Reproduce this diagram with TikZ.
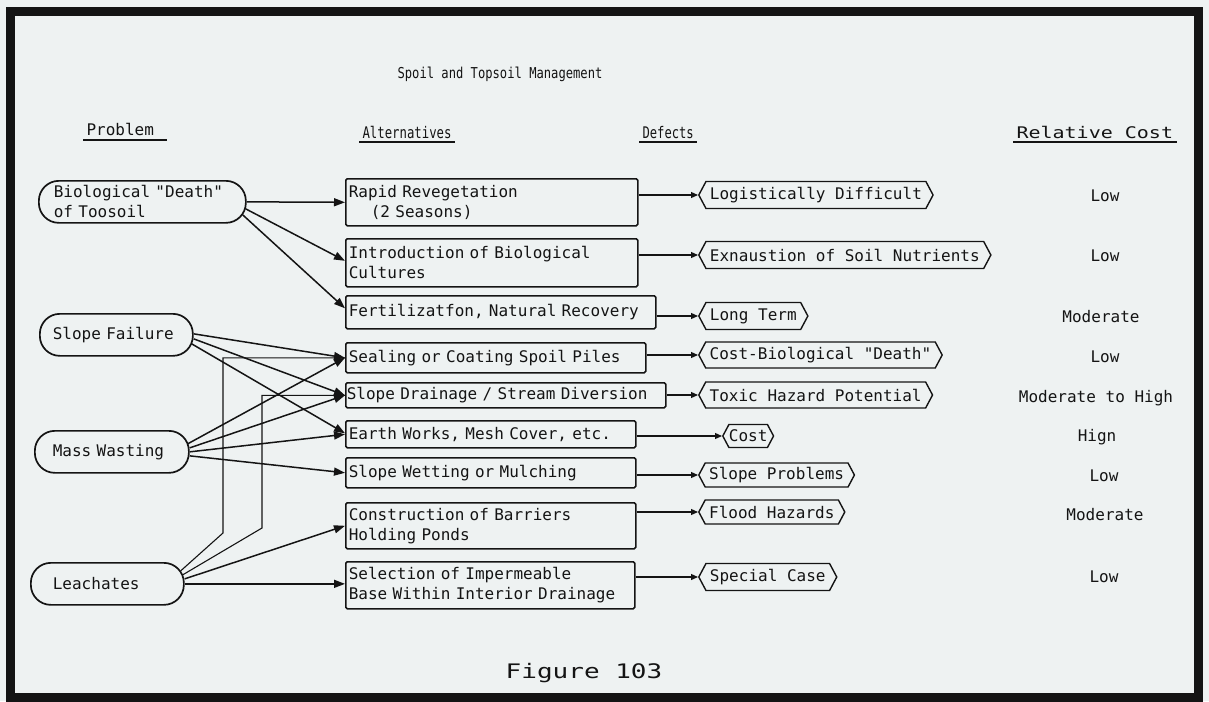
\documentclass[tikz,border=0pt]{standalone}
\usepackage{fontspec}
\usepackage{graphicx}
\usetikzlibrary{arrows.meta,shapes.symbols,calc}
\newfontfamily\tty{DejaVu Sans Mono}
\newcommand\condensed[2][0.77]{\scalebox{#1}[1]{#2}}
\newcommand\widened[2][1.27]{\scalebox{#1}[1]{#2}}
\definecolor{paper}{RGB}{238,242,242}
\definecolor{ink}{RGB}{20,20,20}

\begin{document}
\begin{tikzpicture}[x=1pt,y=-1pt,
  every node/.style={font=\tty\fontsize{16}{20}\selectfont, text=ink},
  prob/.style={draw=ink, line width=1.7pt, rounded corners=20pt, minimum height=42pt,
    align=left, inner ysep=0pt, anchor=north west},
  alt/.style={draw=ink, line width=1.6pt, rounded corners=1.5pt, align=left,
    inner xsep=3pt, inner ysep=0pt, anchor=north west},
  tag/.style={draw=ink, line width=1.4pt, shape=signal, signal to=west and east,
    signal pointer angle=124, inner xsep=4pt, inner ysep=0pt, minimum height=27pt, anchor=west},
  cost/.style={anchor=base},
  head/.style={anchor=base west},
  link/.style={draw=ink, line width=1.5pt, -{Triangle[length=11pt,width=8pt]}},
  deflink/.style={draw=ink, line width=1.2pt, -{Triangle[length=7pt,width=6pt]}},
  elbow/.style={draw=ink, line width=1.1pt},
  rule/.style={draw=ink, line width=1.3pt},
]
% paper and frame
\fill[paper] (0,0) rectangle (1209,701);
\useasboundingbox (0,0) rectangle (1209,701);
\draw[ink, line width=9pt] (10,12) rectangle (1198,697);

% title and column heads
\node[anchor=base] (title) at (500,78) {\fontsize{15}{18}\selectfont\condensed[0.81]{Spoil and Topsoil Management}};
\node[head] (hP) at (83,135) {Problem};
\node[head] (hA) at (359,138) {\condensed{Alternatives}};
\node[head] (hD) at (639,138) {\condensed[0.76]{Defects}};
\node[head] (hC) at (1013,138) {\widened[1.25]{Relative Cost}};
\draw[rule] ([yshift=-5pt]hP.base west) -- ([xshift=10pt,yshift=-5pt]hP.base east);
\draw[rule] ([yshift=-4pt]hA.base west) -- ([yshift=-4pt]hA.base east);
\draw[rule] ([yshift=-4pt]hD.base west) -- ([yshift=-4pt]hD.base east);
\draw[rule] ([yshift=-4pt]hC.base west) -- ([yshift=-4pt]hC.base east);

% problems
\node[prob, inner xsep=15pt, text width=177pt] (P1) at (38,180) {Biological "Death"\\of Toosoil};
\node[prob, inner xsep=13pt, text width=127pt] (P2) at (39,313) {Slope Failure};
\node[prob, inner xsep=18pt, text width=118pt] (P3) at (34,430) {Mass Wasting};
\node[prob, inner xsep=22pt, text width=109pt] (P4) at (30,562) {Leachates};

% alternatives
\node[alt, text width=286pt, minimum height=47pt] (A1) at (345,178) {Rapid Revegetation\\\hspace*{22pt}(2 Seasons)};
\node[alt, text width=286pt, minimum height=48pt] (A2) at (345,238) {Introduction of Biological\\Cultures};
\node[alt, text width=304pt, minimum height=33pt] (A3) at (345,295) {Fertilizatfon, Natural Recovery};
\node[alt, text width=294pt, minimum height=30pt] (A4) at (345,342) {Sealing or Coating Spoil Piles};
\node[alt, inner xsep=1pt, text width=318pt, minimum height=25pt] (A5) at (345,382) {Slope Drainage / Stream Diversion};
\node[alt, text width=284pt, minimum height=27pt] (A6) at (345,420) {Earth Works, Mesh Cover, etc.};
\node[alt, text width=284pt, minimum height=30pt] (A7) at (345,457) {Slope Wetting or Mulching};
\node[alt, text width=284pt, minimum height=46pt] (A8) at (345,502) {Construction of Barriers\\Holding Ponds};
\node[alt, text width=283pt, minimum height=47pt] (A9) at (345,561) {Selection of Impermeable\\Base Within Interior Drainage};

% defects
\node[tag] (D1) at (698,195) {Logistically Difficult};
\node[tag] (D2) at (698,255) {Exnaustion of Soil Nutrients};
\node[tag] (D3) at (698,316) {Long Term};
\node[tag, minimum height=26pt] (D4) at (698,355) {Cost-Biological "Death"};
\node[tag, minimum height=26pt] (D5) at (698,395) {Toxic Hazard Potential};
\node[tag, minimum height=23pt, inner xsep=0pt] (D6) at (722,436) {Cost};
\node[tag, minimum height=24pt] (D7) at (698,475) {Slope Problems};
\node[tag, minimum height=24pt] (D8) at (698,512) {Flood Hazards};
\node[tag] (D9) at (698,577) {Special Case};

% relative cost
\node[cost] (C1) at (1105,201) {Low};
\node[cost] (C2) at (1105,261) {Low};
\node[cost] (C3) at (1101,322) {Moderate};
\node[cost] (C4) at (1105,362) {Low};
\node[cost] (C5) at (1096,402) {Moderate to High};
\node[cost] (C6) at (1097,441) {Hign};
\node[cost] (C7) at (1104,481) {Low};
\node[cost] (C8) at (1105,520) {Moderate};
\node[cost] (C9) at (1104,582) {Low};

% figure number
\node[anchor=base] (fig) at (584,678) {\fontsize{20}{24}\selectfont\widened[1.3]{Figure 103}};

% problem -> alternative
\draw[link] (P1.east) -- (A1.west);
\draw[link] ([xshift=-1pt,yshift=-7pt]P1.east) -- ([yshift=2pt]A2.west);
\draw[link] ([xshift=-4pt,yshift=-13pt]P1.east) -- ([yshift=4pt]A3.west);

\draw[link] ([yshift=1pt]P2.east) -- (A4.west);
\draw[link] ([yshift=-4pt]P2.east) -- (A5.west);
\draw[link] ([xshift=-2pt,yshift=-9pt]P2.east) -- ([yshift=1pt]A6.west);

\draw[link] ([xshift=-2pt,yshift=8pt]P3.east) -- (A4.west);
\draw[link] ([yshift=4pt]P3.east) -- (A5.west);
\draw[link] (P3.east) -- (A6.west);
\draw[link] ([yshift=-4pt]P3.east) -- (A7.west);

% leachates: two thin elbow lines and two arrows
\coordinate (k1) at (223,533);
\coordinate (k2) at (262,528);
\draw[elbow] ([xshift=-4pt,yshift=13pt]P4.east) -- (k1) -- (k1 |- A4.west) -- (A4.west);
\draw[elbow] ([xshift=-2pt,yshift=9pt]P4.east) -- (k2) -- (k2 |- A5.west) -- (A5.west);
\draw[link] ([yshift=5pt]P4.east) -- (A8.west);
\draw[link] (P4.east) -- (A9.west |- P4.east);

% alternative -> defect
\foreach \i in {1,...,9}{
  \draw[deflink] (A\i.east |- D\i.west) -- (D\i.west);
}
\end{tikzpicture}
\end{document}
